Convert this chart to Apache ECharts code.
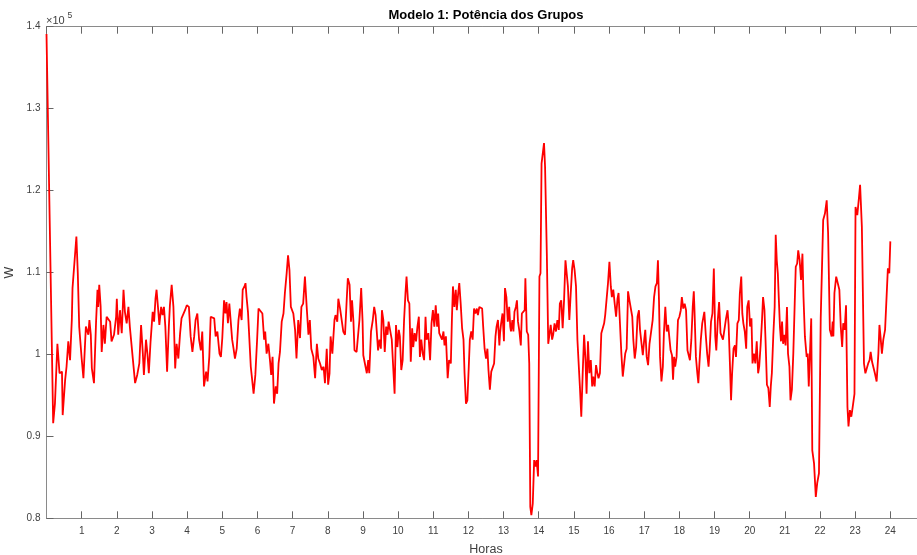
<!DOCTYPE html>
<html>
<head>
<meta charset="utf-8">
<title>Modelo 1: Potência dos Grupos</title>
<script src="https://cdn.jsdelivr.net/npm/echarts@6/dist/echarts.min.js"></script>
<style>
  html, body { margin: 0; padding: 0; background: #fff; }
  #chart { width: 917px; height: 555px; }
</style>
</head>
<body>
<div id="chart"></div>
<script>
// tempo em horas
const horas = [
  0.00,0.19,0.24,0.31,0.37,0.44,0.46,0.53,0.57,0.62,0.67,0.72,0.74,0.79,0.85,0.89,0.93,
  1.00,1.05,1.12,1.19,1.22,1.26,1.29,1.35,1.41,1.45,1.47,1.50,1.54,1.57,1.62,1.66,1.71,1.76,1.81,1.85,1.92,1.98,
  2.00,2.04,2.09,2.14,2.19,2.23,2.28,2.33,2.37,2.45,2.52,2.58,2.64,2.69,2.74,2.77,2.83,2.87,2.91,2.96,
  3.02,3.06,3.10,3.13,3.17,3.21,3.26,3.30,3.34,3.38,3.43,3.48,3.51,3.56,3.61,3.66,3.70,3.75,3.80,3.84,3.89,3.94,3.99,
  4.05,4.10,4.15,4.20,4.24,4.29,4.34,4.39,4.43,4.48,4.54,4.58,4.63,4.67,4.72,4.77,4.81,4.86,4.92,4.96,
  5.00,5.05,5.09,5.12,5.16,5.20,5.24,5.28,5.32,5.36,5.41,5.46,5.50,5.55,5.58,5.63,5.66,5.69,5.73,5.77,5.81,5.84,5.89,5.94,5.99,
  6.03,6.08,6.14,6.19,6.22,6.26,6.31,6.36,6.39,6.43,6.47,6.52,6.56,6.60,6.64,6.69,6.74,6.78,6.83,6.87,6.91,6.95,6.98,
  7.02,7.07,7.11,7.16,7.21,7.25,7.30,7.35,7.40,7.45,7.49,7.53,7.59,7.64,7.69,7.73,7.78,7.83,7.88,7.92,7.97,
  8.01,8.05,8.08,8.13,8.19,8.22,8.27,8.30,8.35,8.40,8.44,8.49,8.54,8.57,8.62,8.66,8.69,8.73,8.76,8.82,8.86,8.90,8.95,8.99,
  9.01,9.06,9.11,9.15,9.18,9.23,9.28,9.32,9.36,9.39,9.43,9.47,9.51,9.54,9.58,9.62,9.66,9.70,9.73,9.77,9.82,9.86,9.90,9.94,9.98,
  10.02,10.05,10.09,10.13,10.17,10.21,10.24,10.28,10.32,10.36,10.40,10.43,10.47,10.51,10.55,10.59,10.62,10.66,10.70,10.74,10.78,10.81,10.86,10.91,10.95,10.99,
  11.03,11.07,11.11,11.14,11.17,11.21,11.25,11.29,11.32,11.36,11.41,11.45,11.50,11.53,11.56,11.60,11.64,11.67,11.71,11.74,11.78,11.82,11.86,11.89,11.93,11.97,
  12.01,12.04,12.08,12.12,12.16,12.20,12.24,12.27,12.31,12.35,12.39,12.42,12.46,12.50,12.54,12.57,12.61,12.65,12.69,12.73,12.77,12.80,12.84,12.88,12.90,12.93,12.97,
  13.01,13.04,13.08,13.12,13.16,13.19,13.21,13.25,13.28,13.31,13.35,13.38,13.41,13.45,13.49,13.52,13.56,13.60,13.62,13.66,13.70,13.73,13.76,13.79,13.83,13.87,13.91,13.94,13.98,
  14.02,14.05,14.08,14.11,14.15,14.18,14.23,14.27,14.30,14.34,14.38,14.41,14.45,14.49,14.53,14.57,14.60,14.64,14.68,14.72,14.76,14.80,14.83,14.87,14.91,14.95,14.98,
  15.02,15.06,15.10,15.14,15.17,15.21,15.25,15.29,15.33,15.36,15.40,15.44,15.48,15.52,15.55,15.59,15.63,15.67,15.70,15.74,15.78,15.82,15.86,15.89,15.93,15.97,
  16.01,16.05,16.08,16.12,16.16,16.20,16.24,16.27,16.31,16.35,16.39,16.43,16.46,16.50,16.54,16.58,16.62,16.66,16.69,16.73,16.77,16.81,16.85,16.88,16.92,16.96,
  17.00,17.03,17.07,17.11,17.15,17.20,17.24,17.28,17.32,17.36,17.39,17.42,17.45,17.49,17.53,17.56,17.60,17.64,17.68,17.72,17.75,17.79,17.82,17.85,17.88,17.92,17.96,
  18.00,18.04,18.07,18.11,18.15,18.19,18.23,18.26,18.30,18.34,18.38,18.41,18.43,18.47,18.51,18.54,18.57,18.61,18.65,18.69,18.71,18.75,18.79,18.83,18.86,18.90,18.94,18.98,
  19.02,19.05,19.09,19.13,19.17,19.21,19.24,19.28,19.32,19.37,19.40,19.44,19.47,19.50,19.54,19.58,19.61,19.65,19.69,19.72,19.76,19.79,19.82,19.86,19.90,19.93,19.97,
  20.01,20.05,20.08,20.12,20.16,20.20,20.24,20.27,20.31,20.35,20.38,20.42,20.45,20.49,20.53,20.57,20.60,20.63,20.67,20.71,20.74,20.77,20.80,20.83,20.86,20.89,20.92,20.95,20.99,
  21.02,21.06,21.09,21.13,21.16,21.20,21.24,21.28,21.31,21.35,21.38,21.42,21.46,21.50,21.53,21.57,21.62,21.65,21.68,21.71,21.75,21.78,21.83,21.88,21.92,21.97,
  22.02,22.06,22.09,22.14,22.19,22.23,22.28,22.33,22.36,22.38,22.41,22.46,22.50,22.55,22.59,22.63,22.66,22.70,22.74,22.78,22.81,22.85,22.89,22.93,22.98,
  23.01,23.06,23.10,23.14,23.19,23.25,23.29,23.33,23.37,23.41,23.44,23.48,23.52,23.56,23.61,23.66,23.69,23.72,23.76,23.80,23.85,23.89,23.93,23.97,24.00
];

// potência em W
const potencia = [
  139100,91600,94000,101300,97700,97900,92600,96900,98500,101600,99300,104200,108100,107900,114400,109900,103400,
  99500,97100,103400,102400,104200,102400,98300,96500,104000,107900,105800,108500,105800,100300,103600,101300,104600,104400,104000,101600,102400,104600,
  106800,102400,105400,102600,107900,105200,103800,105800,103400,99700,96500,97500,98900,103600,100100,97500,101800,100100,97700,101600,
  105200,104000,106800,107900,105800,103600,105800,104800,105800,103400,97900,103400,106000,108500,105800,98300,101300,99500,102600,104400,104400,105400,106000,
  105800,102200,100300,102200,104200,105000,101800,100500,102800,96100,97900,96700,99700,104600,104800,104400,102200,102800,100100,99700,
  102000,106600,105000,106400,103800,106200,104000,101800,100700,99500,100700,104200,105600,104200,107900,108300,108700,107000,105200,105000,98500,97300,95200,97500,101800,
  105600,105800,105000,101800,102800,100100,101300,99100,97500,99700,94000,96100,95200,98900,100300,104000,105000,107500,109900,112100,110300,105800,106000,
  105000,103000,99500,104200,102000,105800,106200,109500,105800,102400,104200,100700,99700,97100,101300,99500,98900,98100,98500,96500,100700,
  96300,97700,102200,100100,104200,104800,104000,106800,105600,105400,102800,102400,106800,109300,108500,104000,106600,104000,100500,100300,100300,104200,108100,104000,
  99900,99700,97700,99300,97700,102800,104200,105800,104800,103000,100500,101800,100700,105400,104200,100300,103400,102400,104000,104000,101800,98500,95200,103600,100900,
  103000,102200,98100,99300,104200,107500,109500,106600,106200,99100,103200,100900,102600,101600,103400,104600,99700,101800,100100,99300,104600,101800,102600,99300,103800,105400,
  103400,106000,103400,105000,102600,102200,101800,102800,101100,102200,97100,99300,98900,104200,108300,105800,107900,105400,107500,108700,106200,103200,101800,97700,94000,94400,
  98500,101800,102800,101800,105600,105000,105600,104800,105800,105800,105600,103400,100700,99500,100700,98100,95700,97900,98100,98900,102200,103400,104200,101100,102600,103800,105000,
  101600,108100,107000,104000,105800,103400,102800,104200,102800,105200,105800,106600,104000,102800,101100,105000,105000,105400,109300,102800,102400,98900,81400,80400,81800,87100,86300,87100,85100,
  109500,109900,123300,123300,125800,122900,112300,101300,101100,103600,101800,102400,103800,102800,104200,103000,106200,106600,103200,106600,111500,111500,108300,104200,107500,110500,111500,
  110300,108300,101800,98500,96100,92400,97700,102400,99300,95200,101600,97700,99300,96100,97300,96100,98700,97700,97100,97700,102600,103200,103800,104800,105000,108700,
  111300,108300,107000,107900,106200,104600,106800,107500,103800,100100,97300,97500,100100,100700,107700,106600,106800,104600,101800,99500,100900,104600,105400,103000,102800,99900,
  101800,103000,99700,98700,101300,101100,104200,107000,108300,108700,111500,106600,99700,96700,98500,102600,105800,102800,103600,103600,100500,99900,96900,99700,98500,99700,104200,
  104600,105400,107000,105600,106200,105400,100500,100300,99300,101800,105800,107700,105400,99700,97700,96500,98900,101800,103800,103800,105200,102400,100100,98500,100500,104000,105000,110500,
  102200,100500,104000,106400,102600,102600,101800,103000,104200,105400,103600,98500,94400,97700,100700,101100,99700,103800,104200,107500,109500,105000,103800,102800,100700,105800,106600,
  103400,104400,98900,100100,98900,101600,97700,98500,101100,104200,107000,105400,101800,96300,95900,93600,96100,97700,102200,105800,114600,111500,109900,106600,103400,101600,104000,101300,102400,
  101100,105800,100100,98500,94400,95700,100100,106200,110700,111100,112700,111500,109100,112300,107000,102200,99700,100100,96100,99700,104400,88300,86700,82600,84300,85500,
  104400,104600,116400,117200,118800,114800,103000,102200,104000,102200,107500,109500,109500,107900,103400,100900,103800,103000,106000,93600,91200,93200,92400,93600,95200,
  118000,117000,118800,120700,115600,98900,97700,97500,98900,99300,100300,99100,98900,97700,96700,100100,103600,102200,100100,101800,103000,103200,110500,109900,113800
];

if (horas.length !== potencia.length) {
  console.error('tamanhos diferentes', horas.length, potencia.length);
}

const serie = horas.map(function (h, i) { return [h, potencia[i]]; });

const fonte = 'Liberation Sans, Arial, Helvetica, sans-serif';
const corEixo = '#8a8a8a';
const corTexto = '#404040';

// eixo estilo matlab (caixa com ticks para dentro)
function eixoX(pos, comLabel) {
  return {
    type: 'value',
    position: pos,
    min: 0,
    max: 25,
    interval: 1,
    axisLine: { show: true, onZero: false, lineStyle: { color: corEixo, width: 1 } },
    axisTick: { show: true, inside: true, length: 7, lineStyle: { color: '#666' } },
    axisLabel: {
      show: comLabel,
      color: corTexto,
      fontSize: 10,
      fontFamily: fonte,
      margin: 8,
      showMinLabel: false,
      showMaxLabel: false
    },
    splitLine: { show: false }
  };
}

function eixoY(pos, comLabel) {
  return {
    type: 'value',
    position: pos,
    min: 80000,
    max: 140000,
    interval: 10000,
    axisLine: { show: true, onZero: false, lineStyle: { color: corEixo, width: 1 } },
    axisTick: { show: true, inside: true, length: 7, lineStyle: { color: '#666' } },
    axisLabel: {
      show: comLabel,
      color: corTexto,
      fontSize: 10,
      fontFamily: fonte,
      margin: 6,
      formatter: function (v) { return String(+(v / 1e5).toFixed(1)); }
    },
    splitLine: { show: false }
  };
}

const xBaixo = eixoX('bottom', true);
xBaixo.name = 'Horas';
xBaixo.nameLocation = 'middle';
xBaixo.nameGap = 25;
xBaixo.nameTextStyle = { color: corTexto, fontSize: 12.5, fontFamily: fonte };

const yEsq = eixoY('left', true);
yEsq.name = 'W';
yEsq.nameLocation = 'middle';
yEsq.nameGap = 29;
yEsq.nameTextStyle = { color: corTexto, fontSize: 12.5, fontFamily: fonte };

const chart = echarts.init(document.getElementById('chart'), null, { renderer: 'canvas' });

const option = {
  animation: false,
  backgroundColor: '#fff',
  title: {
    text: 'Modelo 1: Potência dos Grupos',
    left: 486,
    top: 9,
    padding: 0,
    textAlign: 'center',
    textStyle: { fontFamily: fonte, fontSize: 13, fontWeight: 'bold', color: '#000' }
  },
  grid: {
    left: 46.5,
    right: -8.5,
    top: 26.7,
    bottom: 36.7,
    containLabel: false,
    outerBoundsMode: 'none'
  },
  xAxis: [xBaixo, eixoX('top', false)],
  yAxis: [yEsq, eixoY('right', false)],
  // multiplicador do eixo y (x10^5)
  graphic: [
    { type: 'text', left: 46, top: 15, style: { text: '×10', fontSize: 11, fontFamily: fonte, fill: corTexto } },
    { type: 'text', left: 67.5, top: 11, style: { text: '5', fontSize: 8.5, fontFamily: fonte, fill: corTexto } }
  ],
  series: [
    {
      type: 'line',
      data: serie,
      xAxisIndex: 0,
      yAxisIndex: 0,
      showSymbol: false,
      silent: true,
      lineStyle: { color: '#ff0000', width: 1.8 }
    }
  ]
};

chart.setOption(option);
</script>
</body>
</html>
